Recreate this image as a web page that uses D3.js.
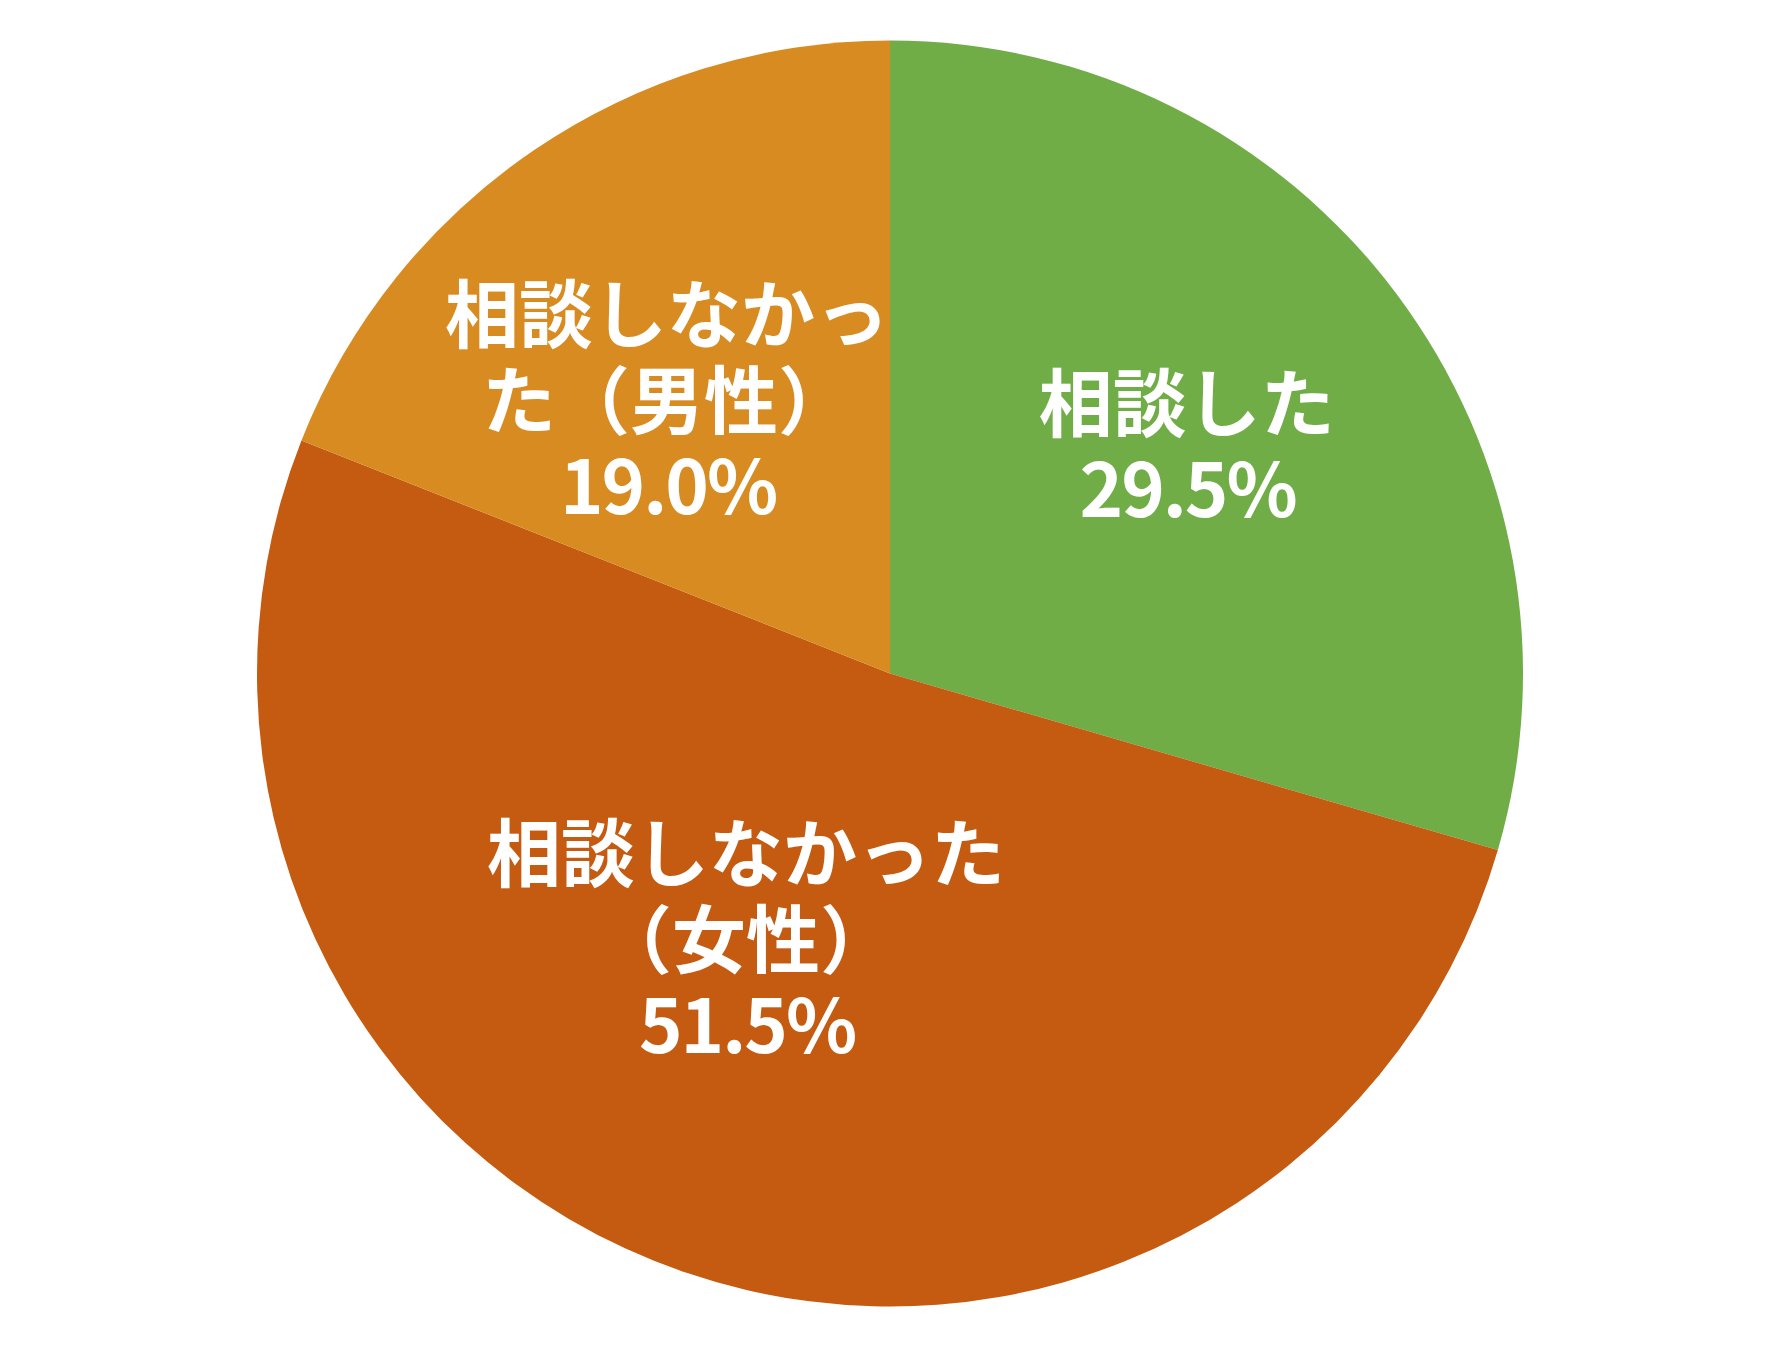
<!DOCTYPE html>
<html>
<head>
<meta charset="utf-8">
<script src="https://cdn.jsdelivr.net/npm/d3@7"></script>
<style>
  html, body { margin: 0; padding: 0; background: #ffffff; }
  svg { display: block; }
</style>
</head>
<body>
<svg id="chart" width="1782" height="1350"></svg>
<script>
// ---- data ----
const categories = ["相談した", "相談しなかった（女性）", "相談しなかった（男性）"];
const values = [29.5, 51.5, 19.0];
const labelLines = [
  ["相談した"],
  ["相談しなかった", "（女性）"],
  ["相談しなかっ", "た（男性）"]
];
const colors = ["#70AD47", "#C55A11", "#D88B21"];

// ---- layout ----
const W = 1782, H = 1350;
const cx = 890, cy = 673.5, R = 633;
const fontSize = 74, lineH = 86;
const labelRadiusK = 0.59;
const labelNudge = [[-2, -5], [-23, -90], [-13, 33]];
const valueSpacing = -2;

const svg = d3.select("#chart");
const g = svg.append("g").attr("transform", `translate(${cx},${cy})`);

const pie = d3.pie().sort(null).value(d => d.value);
const data = categories.map((c, i) => ({ name: c, value: values[i], i }));
const arcs = pie(data);

const arc = d3.arc().innerRadius(0).outerRadius(R);
const labelArc = d3.arc().innerRadius(R * labelRadiusK).outerRadius(R * labelRadiusK);

g.selectAll("path.slice")
  .data(arcs)
  .join("path")
  .attr("class", "slice")
  .attr("d", arc)
  .attr("fill", d => colors[d.data.i]);

const labels = g.selectAll("text.lbl")
  .data(arcs)
  .join("text")
  .attr("class", "lbl")
  .attr("text-anchor", "middle")
  .attr("fill", "#ffffff")
  .style("font-family", "'Noto Sans CJK JP', 'Noto Sans', sans-serif")
  .style("font-weight", 700)
  .style("font-size", fontSize + "px");

labels.each(function(d) {
  const [x0, y0] = labelArc.centroid(d);
  const nd = labelNudge[d.data.i];
  const x = x0 + nd[0], y = y0 + nd[1];
  const lines = labelLines[d.data.i].concat([d3.format(".1f")(d.data.value) + "%"]);
  const n = lines.length;
  const b1 = y + ((n - 1) * lineH - 60) / -2;
  const t = d3.select(this);
  lines.forEach((ln, k) => {
    const last = k === n - 1;
    const ts = t.append("tspan")
      .attr("x", last ? x - valueSpacing / 2 : x)
      .attr("y", b1 + k * lineH)
      .text(ln);
    if (last) ts.style("letter-spacing", valueSpacing + "px");
  });
});
</script>
</body>
</html>
